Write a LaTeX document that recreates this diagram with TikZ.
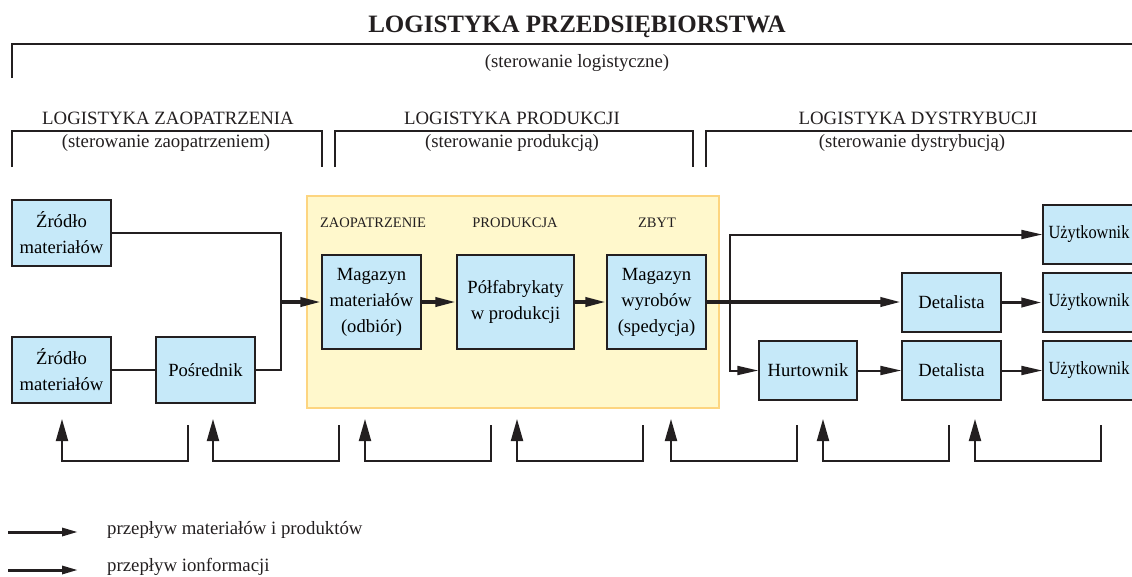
\documentclass[tikz,border=0pt]{standalone}
\usepackage{fontspec}
\setmainfont{Liberation Serif}
\usetikzlibrary{arrows.meta}
\definecolor{ink}{HTML}{231F20}
\definecolor{boxblue}{HTML}{C6E9F9}
\definecolor{yelfill}{HTML}{FFF8CC}
\definecolor{yeldraw}{HTML}{FDD580}
\tikzset{
  box/.style={draw=ink, line width=1.5pt, fill=boxblue, inner sep=0pt, align=center,
    font=\fontsize{18.6}{26}\selectfont},
  thickflow/.style={draw=ink, line width=3.8pt, -{Triangle[length=21pt,width=9pt]}},
  thinflow/.style={draw=ink, line width=2pt, -{Triangle[length=21pt,width=9pt]}},
  thickline/.style={draw=ink, line width=3.8pt},
  thinline/.style={draw=ink, line width=2pt},
  fbarrow/.style={draw=ink, line width=2pt, -{Triangle[length=22pt,width=12pt]}},
  bracket/.style={draw=ink, line width=2pt},
  head/.style={font=\fontsize{18.8}{22}\selectfont, anchor=base, inner sep=0pt, text=ink},
  sub/.style={font=\fontsize{14.5}{18}\selectfont, anchor=base, inner sep=0pt, text=ink},
  legtext/.style={font=\fontsize{18.8}{22}\selectfont, anchor=west, inner sep=0pt, text=ink},
  legarrow/.style={draw=ink, line width=3pt, -{Triangle[length=16pt,width=8pt]}},
}
\begin{document}
\begin{tikzpicture}[x=1pt,y=-1pt]
\useasboundingbox (0,0) rectangle (1132,576);
\clip (0,0) rectangle (1132,576);

% title
\node[font=\fontsize{25}{30}\selectfont\bfseries, anchor=base, inner sep=0pt, text=ink] (title) at (577,32) {LOGISTYKA PRZEDSIĘBIORSTWA};
\draw[bracket, line width=2.5pt] (12,78) -- (12,44) -- (1140,44);
\node[head] (sterlog) at (577,67) {(sterowanie logistyczne)};

% section brackets
\draw[bracket] (12,167) -- (12,131) -- (322,131) -- (322,167);
\draw[bracket] (335,167) -- (335,131) -- (693,131) -- (693,167);
\draw[bracket] (706,167) -- (706,131) -- (1140,131);
\node[head] (hz) at (168,124) {LOGISTYKA ZAOPATRZENIA};
\node[head] (sz) at (166,147) {(sterowanie zaopatrzeniem)};
\node[head] (hp) at (512,124) {LOGISTYKA PRODUKCJI};
\node[head] (sp) at (512,147) {(sterowanie produkcją)};
\node[head] (hd) at (918,124) {LOGISTYKA DYSTRYBUCJI};
\node[head] (sd) at (912,147) {(sterowanie dystrybucją)};

% company area
\draw[draw=yeldraw, fill=yelfill, line width=2pt] (307,196) rectangle (719,408);
\node[sub] (lz) at (373,227) {ZAOPATRZENIE};
\node[sub] (lp) at (515,227) {PRODUKCJA};
\node[sub] (lzb) at (657,227) {ZBYT};

% boxes
\node[box, minimum width=99pt, minimum height=66pt] (z1) at (61.5,233) {Źródło\\materiałów};
\node[box, minimum width=99pt, minimum height=66pt] (z2) at (61.5,370) {Źródło\\materiałów};
\node[box, minimum width=99pt, minimum height=66pt] (pos) at (205.5,370) {Pośrednik};
\node[box, minimum width=99pt, minimum height=94pt] (mm) at (371.5,302) {Magazyn\\materiałów\\(odbiór)};
\node[box, minimum width=117pt, minimum height=94pt] (pf) at (515.5,302) {Półfabrykaty\\w produkcji};
\node[box, minimum width=99pt, minimum height=94pt] (mw) at (656.5,302) {Magazyn\\wyrobów\\(spedycja)};
\node[box, minimum width=92pt, minimum height=59pt] (u1) at (1089,234.5) {\scalebox{0.88}[1]{Użytkownik}};
\node[box, minimum width=99pt, minimum height=59pt] (d1) at (951.5,302.5) {Detalista};
\node[box, minimum width=92pt, minimum height=59pt] (u2) at (1089,302.5) {\scalebox{0.88}[1]{Użytkownik}};
\node[box, minimum width=98pt, minimum height=59pt] (hw) at (808,370.5) {Hurtownik};
\node[box, minimum width=99pt, minimum height=59pt] (d2) at (951.5,370.5) {Detalista};
\node[box, minimum width=92pt, minimum height=59pt] (u3) at (1089,370.5) {\scalebox{0.88}[1]{Użytkownik}};

% supply connections
\coordinate (jb) at (281,370);
\coordinate (jm) at (281,302);
\draw[thinline] (z1.east) -| (jb) -- (pos.east);
\draw[thinline] (z2.east) -- (pos.west);
\draw[thickflow] (jm) -- (mm.west);
\draw[thickflow] (mm.east) -- (pf.west);
\draw[thickflow] (pf.east) -- (mw.west);

% distribution
\coordinate (dv) at (730,302);
\draw[thickflow] (mw.east) -- (mw.east -| d1.west);
\draw[thinflow] (dv) |- (u1.west);
\draw[thinflow] (dv) |- (hw.west);
\draw[thickflow] (d1.east) -- (u2.west);
\draw[thinflow] (hw.east) -- (d2.west);
\draw[thinflow] (d2.east) -- (u3.west);

% information feedback
\foreach \i/\xa in {1/62,2/213,3/365,4/517,5/671,6/823,7/975}{
  \coordinate (fbA\i) at (\xa,419);
  \coordinate (fbC\i) at (\xa,461);
  \coordinate (fbB\i) at (\xa+126,425);
  \draw[fbarrow] (fbB\i) |- (fbC\i) -- (fbA\i);
}

% legend
\coordinate (la1) at (8,532);
\coordinate (lb1) at (78,532);
\coordinate (la2) at (8,570);
\coordinate (lb2) at (78,570);
\draw[legarrow] (la1) -- (lb1);
\draw[legarrow] (la2) -- (lb2);
\node[legtext] (lt1) at (107,530) {przepływ materiałów i produktów};
\node[legtext] (lt2) at (107,567) {przepływ ionformacji};
\end{tikzpicture}
\end{document}
